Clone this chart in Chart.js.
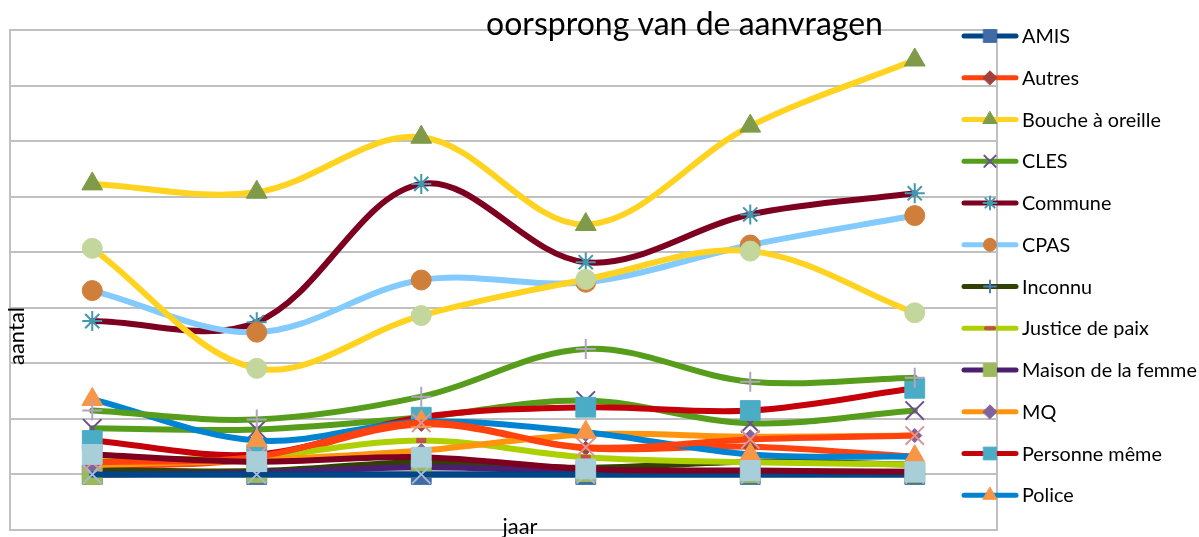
<!DOCTYPE html>
<html>
<head>
<meta charset="utf-8">
<script src="https://cdn.jsdelivr.net/npm/chart.js@4.4.1/dist/chart.umd.min.js"></script>
<style>
  html, body { margin: 0; padding: 0; background: #ffffff; }
  canvas { display: block; }
</style>
</head>
<body>
<canvas id="c" width="1199" height="537"></canvas>
<script>
// ---- data (one grid step = 10) ----
const categories = ['1', '2', '3', '4', '5', '6'];
const seriesNames = ['AMIS', 'Autres', 'Bouche à oreille', 'CLES', 'Commune', 'CPAS',
  'Inconnu', 'Justice de paix', 'Maison de la femme', 'MQ', 'Personne même', 'Police',
  'reeks 13', 'reeks 14', 'reeks 15', 'reeks 16', 'reeks 17'];
const amis      = [0, 0, 0, 0, 0, 0];
const autres    = [1.4, 2.8, 9.0, 4.7, 5.0, 3.2];
const bouche    = [52.3, 50.8, 60.7, 45.0, 62.7, 74.6];
const cles      = [8.3, 8.1, 10.3, 13.3, 9.2, 11.5];
const commune   = [27.6, 27.4, 52.3, 38.2, 46.8, 50.6];
const cpas      = [33.1, 25.6, 35.0, 34.6, 41.3, 46.6];
const inconnu   = [0.8, 0.6, 2.2, 1.2, 2.3, 1.8];
const justice   = [2.7, 3.2, 6.1, 3.1, 2.2, 1.8];
const maison    = [0, 0.3, 1.3, 0.5, 0.3, 0.3];
const mq        = [1.7, 2.6, 4.3, 7.2, 6.8, 7.0];
const personne  = [6.1, 3.6, 10.3, 12.1, 11.5, 15.5];
const police    = [13.5, 6.1, 9.5, 7.6, 3.6, 3.2];
const reeks13   = [0, 0, 0, 0, 0, 0];
const reeks14   = [2.2, 3.2, 9.3, 4.9, 6.3, 7.0];
const reeks15   = [40.7, 19.1, 28.6, 35.1, 40.2, 29.1];
const reeks16   = [11.5, 9.9, 14.0, 22.6, 16.7, 17.4];
const reeks17   = [3.6, 2.3, 3.1, 1.0, 0.7, 0.5];
const yTicks    = [-10, 0, 10, 20, 30, 40, 50, 60, 70, 80];

const seriesValues = [amis, autres, bouche, cles, commune, cpas, inconnu, justice, maison,
  mq, personne, police, reeks13, reeks14, reeks15, reeks16, reeks17];

// ---- styles ----
const lineColors = ['#004586', '#FF420E', '#FFD320', '#579D1C', '#7E0021', '#83CAFF',
  '#314004', '#AECF00', '#4B1F6F', '#FF950E', '#C5000B', '#0084D1',
  '#004586', '#FF420E', '#FFD320', '#579D1C', '#7E0021'];
const markerColors = ['#3F6BA6', '#A0413C', '#7F9A48', '#6A4F8F', '#4198AF', '#D07F3A',
  '#4A7EBB', '#C0504D', '#9BBB59', '#8064A2', '#4BACC6', '#F79646',
  '#A5B7D8', '#D99694', '#C3D69B', '#B3A2C7', '#A8CEDA'];
const markerStyles = ['rect', 'rectRot', 'triangle', 'crossRot', 'star', 'circle',
  'cross', 'line', 'rect', 'rectRot', 'rect', 'triangle',
  'crossRot', 'crossRot', 'circle', 'cross', 'rect'];
const plotRadius = { rect: 14, rectRot: 7, triangle: 12, crossRot: 13, star: 10, circle: 10, cross: 10, line: 5 };
const legendRadius = { rect: 9, rectRot: 7, triangle: 8, crossRot: 8, star: 6.5, circle: 6.5, cross: 6, line: 4 };
const strokeOnly = { crossRot: true, star: true, cross: true, line: true };

const datasets = seriesValues.map((vals, i) => {
  const st = markerStyles[i];
  return {
    label: seriesNames[i],
    data: vals,
    borderColor: lineColors[i],
    backgroundColor: lineColors[i],
    borderWidth: 6,
    borderCapStyle: 'round',
    borderJoinStyle: 'round',
    tension: 0.35,
    fill: false,
    pointStyle: st,
    pointRadius: plotRadius[st],
    pointHoverRadius: plotRadius[st],
    pointBackgroundColor: markerColors[i],
    pointBorderColor: markerColors[i],
    pointBorderWidth: strokeOnly[st] ? (st === 'line' ? 5 : 2) : 1,
    order: -i
  };
});

const FONT = 'Lato, "Liberation Sans", sans-serif';
function fitSize(ctx, text, width) {
  ctx.font = '100px ' + FONT;
  return 100 * width / ctx.measureText(text).width;
}

const decorPlugin = {
  id: 'decor',
  beforeDatasetsDraw(chart) {
    const { ctx, chartArea } = chart;
    ctx.save();
    ctx.strokeStyle = '#C0C0C0';
    ctx.lineWidth = 2;
    ctx.strokeRect(chartArea.left, chartArea.top, chartArea.right - chartArea.left, chartArea.bottom - chartArea.top);
    ctx.restore();
  },
  afterDraw(chart) {
    const { ctx } = chart;
    ctx.save();
    ctx.fillStyle = '#000000';
    // title
    const title = 'oorsprong van de aanvragen';
    let s = fitSize(ctx, title, 397);
    ctx.font = s.toFixed(2) + 'px ' + FONT;
    ctx.textAlign = 'center';
    ctx.textBaseline = 'alphabetic';
    ctx.fillText(title, 684.5, 35);
    // x axis title
    s = fitSize(ctx, 'jaar', 35);
    ctx.font = s.toFixed(2) + 'px ' + FONT;
    ctx.fillText('jaar', 520, 534);
    // y axis title
    s = fitSize(ctx, 'aantal', 58);
    ctx.font = s.toFixed(2) + 'px ' + FONT;
    ctx.save();
    ctx.translate(24, 336);
    ctx.rotate(-Math.PI / 2);
    ctx.fillText('aantal', 0, 0);
    ctx.restore();

    // legend (first 12 series)
    const ls = fitSize(ctx, 'Maison de la femme', 175);
    for (let i = 0; i < 12; i++) {
      const y = 36 + i * 41.75;
      ctx.save();
      ctx.lineCap = 'round';
      ctx.lineWidth = 5;
      ctx.strokeStyle = lineColors[i];
      ctx.beginPath();
      ctx.moveTo(964, y);
      ctx.lineTo(1016, y);
      ctx.stroke();
      const st = markerStyles[i];
      ctx.fillStyle = markerColors[i];
      ctx.strokeStyle = markerColors[i];
      ctx.lineWidth = strokeOnly[st] ? (st === 'line' ? 4 : 2) : 1;
      Chart.helpers.drawPoint(ctx, { pointStyle: st, radius: legendRadius[st], rotation: 0, borderWidth: ctx.lineWidth }, 990, y);
      ctx.restore();
      ctx.font = ls.toFixed(2) + 'px ' + FONT;
      ctx.textAlign = 'left';
      ctx.textBaseline = 'alphabetic';
      ctx.fillStyle = '#000000';
      ctx.fillText(seriesNames[i], 1022, y + 7);
    }
    ctx.restore();
  }
};

new Chart(document.getElementById('c'), {
  type: 'line',
  data: { labels: categories, datasets: datasets },
  options: {
    responsive: false,
    devicePixelRatio: 1,
    animation: false,
    layout: { autoPadding: false, padding: { left: 10, top: 30, right: 202, bottom: 7 } },
    plugins: { legend: { display: false }, title: { display: false }, tooltip: { enabled: false } },
    scales: {
      x: { type: 'category', offset: true, display: false },
      y: {
        min: yTicks[0], max: yTicks[yTicks.length - 1],
        afterBuildTicks(scale) { scale.ticks = yTicks.map(v => ({ value: v })); },
        afterFit(scale) { scale.width = 0; },
        ticks: { display: false },
        grid: { color: '#C0C0C0', lineWidth: 2, drawTicks: false },
        border: { display: true, color: '#C0C0C0', width: 2 }
      }
    }
  },
  plugins: [decorPlugin]
});
</script>
</body>
</html>
